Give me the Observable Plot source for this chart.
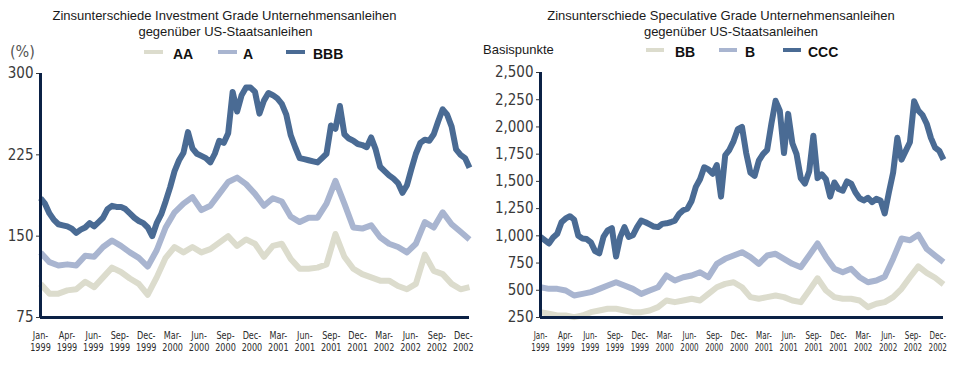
<!DOCTYPE html>
<html>
<head>
<meta charset="utf-8">
<script src="https://cdn.jsdelivr.net/npm/d3@7"></script>
<script src="https://cdn.jsdelivr.net/npm/@observablehq/plot@0.6"></script>
<style>
  html, body { margin: 0; padding: 0; background: #fff; }
  #root { position: relative; width: 960px; height: 365px; overflow: hidden; background: #fff; font-family: "Liberation Sans", Arial, sans-serif; }
  .abs { position: absolute; white-space: nowrap; }
  .title { font-size: 13px; line-height: 16px; color: #1a1a1a; text-align: center; }
  .leg { font-size: 14px; font-weight: bold; line-height: 16px; color: #111; }
  .sw { position: absolute; height: 4px; }
  .narrow { font-family: "Liberation Sans Narrow", "DejaVu Sans Condensed", sans-serif; }
</style>
</head>
<body>
<div id="root"></div>
<script>
// ---------- data ----------
const xTickLabels = ["Jan-\n1999","Apr-\n1999","Jun-\n1999","Sep-\n1999","Dec-\n1999","Mar-\n2000","Jun-\n2000","Sep-\n2000","Dec-\n2000","Mar-\n2001","Jun-\n2001","Sep-\n2001","Dec-\n2001","Mar-\n2002","Jun-\n2002","Sep-\n2002","Dec-\n2002"];

// Investment grade (%), monthly Jan 1999 .. Jan 2003
const aaValues = [106,97,97,100,101,108,103,112,121,117,111,106,96,112,130,140,135,140,135,138,144,150,141,147,143,131,141,143,129,120,120,121,124,152,131,120,115,112,109,109,104,101,106,133,118,115,106,101,103];
const aValues = [135,126,123,124,123,132,131,140,146,141,135,130,122,137,158,172,180,186,174,178,189,200,204,198,189,178,185,182,168,163,167,167,180,201,180,158,157,160,149,143,140,135,143,163,158,172,161,154,147];
// half-monthly
const bbbValues = [185,180,171,165,161,160,159,157,153,156,
  158,162,159,163,167,175,178,177,177,175,
  171,167,164,162,158,150,162,170,182,195,
  210,220,227,246,231,226,224,222,218,226,
  238,236,245,283,265,280,287,287,283,263,
  275,282,280,277,272,262,243,232,222,221,
  220,219,218,222,226,252,249,270,244,240,
  238,235,234,232,241,230,214,210,206,203,
  199,190,197,212,226,236,239,238,244,256,
  267,262,251,230,225,222,213];

// Speculative grade (basis points)
const bbValues = [299,284,268,268,253,268,299,314,330,330,314,299,299,314,345,406,391,406,422,406,467,528,559,574,528,437,422,437,452,437,406,391,498,610,498,437,422,422,406,345,376,391,437,513,620,720,660,615,555];
const bValues = [528,513,513,498,452,467,483,513,544,574,544,513,467,498,528,636,590,620,636,666,620,743,789,819,850,804,743,819,835,789,743,712,820,930,804,697,666,697,620,574,590,625,790,975,960,1010,880,819,758];
// half-monthly
const cccValues = [990,960,930,985,1020,1125,1160,1180,1150,1000,
  975,970,940,860,840,990,1050,1070,810,990,
  1080,990,1005,1080,1140,1125,1105,1085,1080,1110,
  1115,1125,1140,1200,1235,1250,1320,1450,1520,1630,
  1610,1570,1650,1360,1740,1790,1870,1980,2000,1760,
  1580,1550,1690,1750,1790,2030,2240,2150,1760,2120,
  1850,1750,1530,1480,1590,1920,1530,1565,1520,1360,
  1490,1430,1415,1500,1480,1400,1345,1325,1350,1310,
  1340,1325,1205,1400,1580,1900,1700,1780,1860,2235,
  2150,2110,2030,1900,1810,1780,1700];

const leftTicks = [75,150,225,300];
const rightTicks = [250,500,750,1000,1250,1500,1750,2000,2250,2500];

// ---------- style ----------
const C_DARK = "#4a6b94", C_MID = "#a9b5d0", C_LIGHT = "#dcdccd", C_AXIS = "#0b2145";
const TICK_STEP = 2.957; // months between category labels

const root = document.getElementById("root");
function addDiv(cls, style, text) {
  const d = document.createElement("div");
  d.className = cls; d.style.cssText = style; if (text != null) d.textContent = text;
  root.appendChild(d); return d;
}

function panel({series, yDomain, yTicks, yFormat, left, marginLeft, marginRight, marginTop, xscale}) {
  const marks = series.map(s => Plot.line(s.values.map((v, i) => ({m: i * s.step, v})),
    {x: "m", y: "v", stroke: s.color, strokeWidth: 6, strokeLinejoin: "round", strokeLinecap: "butt"}));
  const ticks = xTickLabels.map((t, i) => ({pos: i * TICK_STEP, label: t}));
  marks.push(Plot.ruleX([0], {stroke: C_AXIS, strokeWidth: 3}));
  marks.push(Plot.ruleY([yDomain[0]], {stroke: C_AXIS, strokeWidth: 3}));
  marks.push(Plot.text(ticks, {x: "pos", text: "label", frameAnchor: "bottom", lineAnchor: "top", dy: 13, fontSize: 10, lineHeight: 1.22, fill: "#2a2a2a", ariaLabel: "xlabels"}));
  const svg = Plot.plot({
    width: 480, height: 305,
    marginLeft, marginRight, marginTop, marginBottom: 48,
    x: {domain: [0, 48], axis: null},
    y: {domain: yDomain, ticks: yTicks, tickFormat: yFormat, tickSize: 4, tickPadding: 3, label: null},
    style: {fontFamily: '"Liberation Sans Narrow", "DejaVu Sans Condensed", sans-serif', fontSize: "15px", color: "#3a3a3a", background: "transparent", overflow: "visible"},
    marks
  });
  svg.style.position = "absolute";
  svg.style.left = left + "px";
  svg.style.top = "60px";
  let texts = svg.querySelectorAll('g[aria-label="xlabels"] text');
  if (!texts.length) texts = svg.querySelectorAll('g[aria-label="text"] text');
  texts.forEach(t => {
    const tr = t.getAttribute("transform") || "";
    t.setAttribute("transform", tr + ` scale(${xscale},1)`);
  });
  root.appendChild(svg);
}

// ---------- left panel ----------
addDiv("abs title", "left:0;top:7.5px;width:449px;", "Zinsunterschiede Investment Grade Unternehmensanleihen");
addDiv("abs title", "left:0;top:23.5px;width:451px;", "gegenüber US-Staatsanleihen");
addDiv("abs narrow", "left:10px;top:43.5px;font-size:16px;line-height:16px;color:#555;", "(%)");
[["AA", C_LIGHT, 144, 173], ["A", C_MID, 218, 243], ["BBB", C_DARK, 286, 313]].forEach(([t, c, sx, tx]) => {
  addDiv("sw", `left:${sx}px;top:50px;width:19px;background:${c};`);
  addDiv("abs leg", `left:${tx}px;top:46px;`, t);
});
panel({
  series: [
    {values: aaValues, step: 1, color: C_LIGHT},
    {values: aValues, step: 1, color: C_MID},
    {values: bbbValues, step: 0.5, color: C_DARK}
  ],
  yDomain: [75, 300], yTicks: leftTicks, yFormat: d3.format("d"),
  left: 0, marginLeft: 40, marginRight: 11, marginTop: 13, xscale: 0.9
});

// ---------- right panel ----------
addDiv("abs title", "left:480px;top:7.5px;width:482px;", "Zinsunterschiede Speculative Grade Unternehmensanleihen");
addDiv("abs title", "left:490px;top:23.5px;width:482px;", "gegenüber US-Staatsanleihen");
addDiv("abs", "left:483px;top:42px;font-size:13px;line-height:16px;color:#1a1a1a;", "Basispunkte");
[["BB", C_LIGHT, 646, 675], ["B", C_MID, 719, 745], ["CCC", C_DARK, 783, 808]].forEach(([t, c, sx, tx]) => {
  addDiv("sw", `left:${sx}px;top:48px;width:18px;background:${c};`);
  addDiv("abs leg", `left:${tx}px;top:44px;`, t);
});
panel({
  series: [
    {values: bbValues, step: 1, color: C_LIGHT},
    {values: bValues, step: 1, color: C_MID},
    {values: cccValues, step: 0.5, color: C_DARK}
  ],
  yDomain: [250, 2500], yTicks: rightTicks, yFormat: d3.format(","),
  left: 480, marginLeft: 60, marginRight: 17, marginTop: 12, xscale: 0.8
});
</script>
</body>
</html>
